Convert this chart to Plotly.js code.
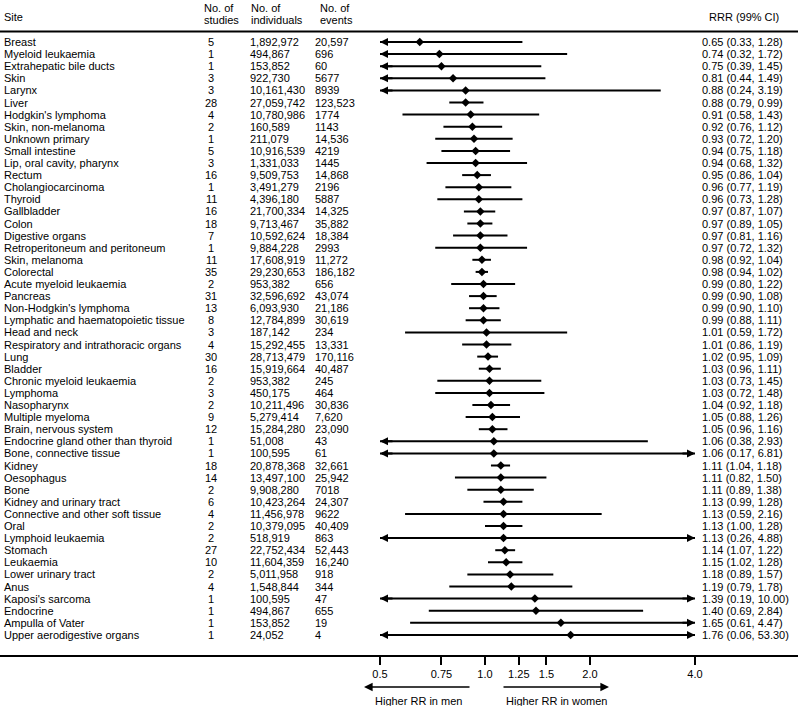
<!DOCTYPE html>
<html>
<head>
<meta charset="utf-8">
<script src="https://cdn.plot.ly/plotly-3.0.1.min.js"></script>
<style>html,body{margin:0;padding:0;background:#fff;}#chart{width:798px;height:706px;}</style>
</head>
<body>
<div id="chart"></div>
<script>
// ---------------- data ----------------
const sites = ["Breast","Myeloid leukaemia","Extrahepatic bile ducts","Skin","Larynx","Liver","Hodgkin's lymphoma","Skin, non-melanoma","Unknown primary","Small intestine","Lip, oral cavity, pharynx","Rectum","Cholangiocarcinoma","Thyroid","Gallbladder","Colon","Digestive organs","Retroperitoneum and peritoneum","Skin, melanoma","Colorectal","Acute myeloid leukaemia","Pancreas","Non-Hodgkin's lymphoma","Lymphatic and haematopoietic tissue","Head and neck","Respiratory and intrathoracic organs","Lung","Bladder","Chronic myeloid leukaemia","Lymphoma","Nasopharynx","Multiple myeloma","Brain, nervous system","Endocrine gland other than thyroid","Bone, connective tissue","Kidney","Oesophagus","Bone","Kidney and urinary tract","Connective and other soft tissue","Oral","Lymphoid leukaemia","Stomach","Leukaemia","Lower urinary tract","Anus","Kaposi's sarcoma","Endocrine","Ampulla of Vater","Upper aerodigestive organs"];
const studies = [5,1,1,3,3,28,4,2,1,5,3,16,1,11,16,18,7,1,11,35,2,31,13,8,3,4,30,16,2,3,2,9,12,1,1,18,14,2,6,4,2,2,27,10,2,4,1,1,1,1];
const individuals = ["1,892,972","494,867","153,852","922,730","10,161,430","27,059,742","10,780,986","160,589","211,079","10,916,539","1,331,033","9,509,753","3,491,279","4,396,180","21,700,334","9,713,467","10,592,624","9,884,228","17,608,919","29,230,653","953,382","32,596,692","6,093,930","12,784,899","187,142","15,292,455","28,713,479","15,919,664","953,382","450,175","10,211,496","5,279,414","15,284,280","51,008","100,595","20,878,368","13,497,100","9,908,280","10,423,264","11,456,978","10,379,095","518,919","22,752,434","11,604,359","5,011,958","1,548,844","100,595","494,867","153,852","24,052"];
const events = ["20,597","696","60","5677","8939","123,523","1774","1143","14,536","4219","1445","14,868","2196","5887","14,325","35,882","18,384","2993","11,272","186,182","656","43,074","21,186","30,619","234","13,331","170,116","40,487","245","464","30,836","7,620","23,090","43","61","32,661","25,942","7018","24,307","9622","40,409","863","52,443","16,240","918","344","47","655","19","4"];
const rrr = [0.65,0.74,0.75,0.81,0.88,0.88,0.91,0.92,0.93,0.94,0.94,0.95,0.96,0.96,0.97,0.97,0.97,0.97,0.98,0.98,0.99,0.99,0.99,0.99,1.01,1.01,1.02,1.03,1.03,1.03,1.04,1.05,1.05,1.06,1.06,1.11,1.11,1.11,1.13,1.13,1.13,1.13,1.14,1.15,1.18,1.19,1.39,1.40,1.65,1.76];
const ciLow = [0.33,0.32,0.39,0.44,0.24,0.79,0.58,0.76,0.72,0.75,0.68,0.86,0.77,0.73,0.87,0.89,0.81,0.72,0.92,0.94,0.80,0.90,0.90,0.88,0.59,0.86,0.95,0.96,0.73,0.72,0.92,0.88,0.96,0.38,0.17,1.04,0.82,0.89,0.99,0.59,1.00,0.26,1.07,1.02,0.89,0.79,0.19,0.69,0.61,0.06];
const ciHigh = [1.28,1.72,1.45,1.49,3.19,0.99,1.43,1.12,1.20,1.18,1.32,1.04,1.19,1.28,1.07,1.05,1.16,1.32,1.04,1.02,1.22,1.08,1.10,1.11,1.72,1.19,1.09,1.11,1.45,1.48,1.18,1.26,1.16,2.93,6.81,1.18,1.50,1.38,1.28,2.16,1.28,4.88,1.22,1.28,1.57,1.78,10.00,2.84,4.47,53.30];
const tickVals = [0.5,0.75,1.0,1.25,1.5,2.0,4.0];
const tickText = ["0.5","0.75","1.0","1.25","1.5","2.0","4.0"];
const headers = {site:"Site", studies:["No. of","studies"], individuals:["No. of","individuals"], events:["No. of","events"], rrr:"RRR (99% CI)"};
const directionLabels = ["Higher RR in men","Higher RR in women"];
const clipMin = 0.5, clipMax = 4.0;

// ---------------- layout helpers ----------------
const W = 798, H = 706;
const FONT = "Liberation Sans, Arial, Helvetica, sans-serif";
const px = p => p / W;
const py = p => 1 - p / H;
const rowY0 = 42, rowDY = 12.1;        // pixel of first row and row spacing
const xCenter = 485, xPerLog2 = 105;   // pixel of RR=1 and pixels per doubling
const xr = [(0 - xCenter) / xPerLog2 * Math.LOG10E * Math.LN2, (W - xCenter) / xPerLog2 * Math.LOG10E * Math.LN2];
const yr = [(H - rowY0) / rowDY, -rowY0 / rowDY];

const n = sites.length;
const rows = sites.map((_, i) => i);

// CI lines (clipped to display range)
const ciX = [], ciY = [];
for (let i = 0; i < n; i++) {
  ciX.push(Math.max(ciLow[i], clipMin), Math.min(ciHigh[i], clipMax), null);
  ciY.push(i, i, null);
}

const traces = [
  {type:"scatter", mode:"lines", x:ciX, y:ciY, line:{color:"#000", width:2}, hoverinfo:"skip", showlegend:false},
  {type:"scatter", mode:"markers", x:rrr, y:rows, marker:{symbol:"diamond", size:6.5, color:"#000"}, showlegend:false}
];

const tf = {family:FONT, size:11, color:"#000"};
const ann = [];
function txt(text, x, y, xanchor, yref) {
  ann.push({text:text, x:x, y:y, xref:"paper", yref:yref || "y", xanchor:xanchor || "left", yanchor:"middle", showarrow:false, font:tf});
}
// header
txt(headers.site, px(2), py(17), "left", "paper");
txt(headers.studies[0], px(202), py(7.5), "left", "paper");
txt(headers.studies[1], px(202), py(20.5), "left", "paper");
txt(headers.individuals[0], px(249), py(7.5), "left", "paper");
txt(headers.individuals[1], px(249), py(20.5), "left", "paper");
txt(headers.events[0], px(318), py(7.5), "left", "paper");
txt(headers.events[1], px(318), py(20.5), "left", "paper");
txt(headers.rrr, px(707), py(17), "left", "paper");

for (let i = 0; i < n; i++) {
  txt(sites[i], px(2), i, "left");
  txt(String(studies[i]), px(211), i, "center");
  txt(individuals[i], px(248), i, "left");
  txt(events[i], px(313), i, "left");
  txt(rrr[i].toFixed(2) + " (" + ciLow[i].toFixed(2) + ", " + ciHigh[i].toFixed(2) + ")", px(700), i, "left");
  if (ciLow[i] < clipMin) {
    ann.push({text:"", x:Math.log10(clipMin), y:i, xref:"x", yref:"y", ax:14, ay:0, showarrow:true, arrowhead:2, arrowsize:0.8, arrowwidth:2, arrowcolor:"#000", standoff:0});
  }
  if (ciHigh[i] > clipMax) {
    ann.push({text:"", x:Math.log10(clipMax), y:i, xref:"x", yref:"y", ax:-14, ay:0, showarrow:true, arrowhead:2, arrowsize:0.8, arrowwidth:2, arrowcolor:"#000", standoff:0});
  }
}
// direction arrows + labels
ann.push({text:"", x:px(364), y:py(687), xref:"paper", yref:"paper", ax:107, ay:0, showarrow:true, arrowhead:2, arrowsize:1.15, arrowwidth:1.5, arrowcolor:"#000", standoff:0});
ann.push({text:"", x:px(609), y:py(687), xref:"paper", yref:"paper", ax:-107, ay:0, showarrow:true, arrowhead:2, arrowsize:1.15, arrowwidth:1.5, arrowcolor:"#000", standoff:0});
txt(directionLabels[0], px(418), py(700.5), "center", "paper");
txt(directionLabels[1], px(556), py(700.5), "center", "paper");

const layout = {
  width:W, height:H, autosize:false,
  margin:{l:0, r:0, t:0, b:0, pad:0},
  paper_bgcolor:"#fff", plot_bgcolor:"#fff",
  showlegend:false,
  font:tf,
  xaxis:{type:"log", range:xr, domain:[0,1], anchor:"free", position:py(656),
         showline:true, linewidth:2, linecolor:"#000", mirror:false,
         ticks:"outside", ticklen:8, tickwidth:2, tickcolor:"#000",
         tickvals:tickVals, ticktext:tickText, tickfont:tf,
         showgrid:false, zeroline:false, fixedrange:true},
  yaxis:{range:yr, visible:false, showgrid:false, zeroline:false, fixedrange:true},
  shapes:[
    {type:"line", xref:"paper", yref:"paper", x0:0, x1:1, y0:py(31.5), y1:py(31.5), line:{color:"#000", width:2}},
    {type:"line", xref:"x", yref:"paper", x0:0, x1:0, y0:py(31.5), y1:py(656), line:{color:"#000", width:2}}
  ],
  annotations:ann
};

Plotly.newPlot("chart", traces, layout, {staticPlot:true, displayModeBar:false});
</script>
</body>
</html>
